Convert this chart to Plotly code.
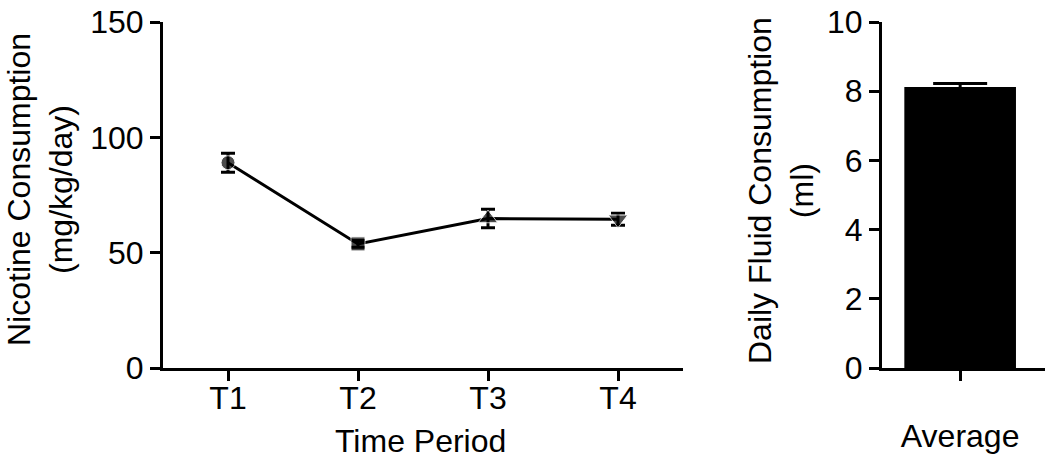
import plotly.graph_objects as go

# nicotine intake per period (mean, sem)
periods = ['T1', 'T2', 'T3', 'T4']
nicotine_mean = [89, 53.8, 64.8, 64.5]
nicotine_sem = [4.1, 1.5, 4.0, 2.6]
period_symbols = ['circle', 'square', 'triangle-up', 'triangle-down']
period_sizes = [14, 14, 17, 17]

# average daily fluid
fluid_labels = ['Average']
fluid_mean = [8.12]
fluid_sem = [0.1]

W, H = 1050, 463
FONT = dict(family='Arial, Liberation Sans, sans-serif', size=32, color='black')


def fx(p):
    return p / W


def fy(p):
    return (H - p) / H


fig = go.Figure()

fig.add_trace(go.Scatter(
    x=list(range(1, len(periods) + 1)),
    y=nicotine_mean,
    mode='lines+markers',
    line=dict(color='black', width=3),
    marker=dict(symbol=period_symbols, size=period_sizes, color='black'),
    error_y=dict(type='data', array=nicotine_sem, color='black', thickness=3, width=7),
    xaxis='x', yaxis='y',
    showlegend=False
))

fig.add_trace(go.Bar(
    x=[0],
    y=fluid_mean,
    width=1,
    marker=dict(color='black', line=dict(width=0)),
    error_y=dict(type='data', array=fluid_sem, color='black', thickness=3, width=27),
    xaxis='x2', yaxis='y2',
    showlegend=False
))

axis_style = dict(
    showline=True, linecolor='black', linewidth=3,
    ticks='outside', ticklen=10, tickwidth=3, tickcolor='black',
    showgrid=False, zeroline=False, automargin=False,
    ticklabeloverflow='allow',
    tickfont=FONT,
)

fig.update_layout(
    width=W, height=H,
    margin=dict(l=0, r=0, t=0, b=0),
    plot_bgcolor='white', paper_bgcolor='white',
    font=FONT,
    xaxis=dict(
        axis_style, domain=[fx(163), fx(683)], range=[0.5, 4.5],
        tickvals=list(range(1, len(periods) + 1)), ticktext=periods,
        ticklabelstandoff=-10, anchor='y',
    ),
    yaxis=dict(
        axis_style, domain=[fy(368), fy(22)], range=[0, 150],
        tickvals=[0, 50, 100, 150], anchor='x',
    ),
    xaxis2=dict(
        axis_style, domain=[fx(882), fx(1045)], range=[-0.70, 0.76],
        tickvals=[0], ticktext=fluid_labels, ticklabelstandoff=28,
        anchor='y2',
    ),
    yaxis2=dict(
        axis_style, domain=[fy(368), fy(22)], range=[0, 10],
        tickvals=[0, 2, 4, 6, 8, 10], anchor='x2',
    ),
)

# axis titles as annotations so they sit where the reference has them
titles = [
    ('Time Period', 420, 441, 0),
    ('Nicotine Consumption<br>(mg/kg/day)', 40, 190, -90),
    ('Daily Fluid Consumption<br>(ml)', 781, 191, -90),
]
for text, x, y, angle in titles:
    fig.add_annotation(
        text=text, x=fx(x), y=fy(y), xref='paper', yref='paper',
        xanchor='center', yanchor='middle', textangle=angle,
        showarrow=False, font=FONT,
    )

# drop the default body margin so the figure fills the window exactly
fig.write_html(
    "out.html",
    config={'displayModeBar': False},
    post_script="document.body.style.margin = '0';",
)
